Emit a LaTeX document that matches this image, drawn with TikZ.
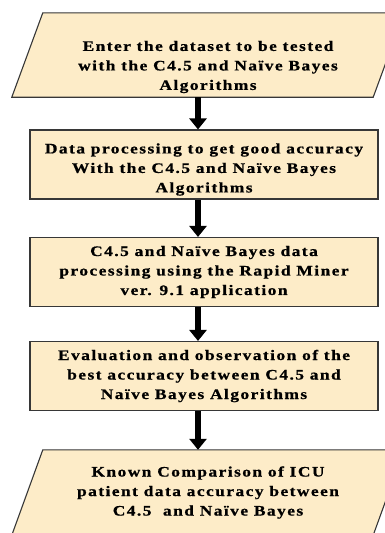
\documentclass[tikz,border=0pt]{standalone}
\usepackage{fontspec}
\setmainfont{Liberation Serif}
\newfontfamily\flowfont{Liberation Serif}[LetterSpace=10, FakeStretch=1.2, FakeBold=0.8]
\usepackage{tikz}
\usetikzlibrary{arrows.meta, backgrounds}
\definecolor{cBoxFill}{RGB}{253,236,200}
\definecolor{cBoxLine}{RGB}{55,55,55}
\tikzset{
	stepblk/.style  ={rectangle, draw=cBoxLine, line width=1.1pt, fill=cBoxFill, minimum width=348pt, minimum height=69pt, inner sep=0pt, text centered, align=center, font=\flowfont\bfseries\fontsize{14.5}{19.5}\selectfont},
	iobox/.style    ={rectangle, minimum width=361pt, minimum height=84pt, inner sep=0pt, text centered, align=center, font=\flowfont\bfseries\fontsize{14.5}{19.5}\selectfont},
	ioshape/.style  ={draw=cBoxLine, line width=1.1pt, fill=cBoxFill},
	flowarrow/.style={-{Triangle[width=17pt, length=11pt]}, line width=6pt},
}
\newcommand{\ioslant}[1]{% parallelogram round an iobox node
	\path[ioshape] ([xshift=-15.5pt]#1.south west) -- ([xshift=15.5pt]#1.north west) -- ([xshift=15.5pt]#1.north east) -- ([xshift=-15.5pt]#1.south east) -- cycle;}
\begin{document}
\begin{tikzpicture}[x=1pt, y=-1pt]
	\useasboundingbox (0,0) rectangle (384,533);
	\clip (0,0) rectangle (384,533);
	\coordinate (axis) at (198,0);
	\node[iobox, text height=73pt] (input) at (208,55) {Enter the dataset to be tested\\ with the C4.5 and Naïve Bayes\\ Algorithms};
	\node[stepblk, text height=59pt] (prep) at (204,164.5) {Data processing to get good accuracy\\ With the C4.5 and Naïve Bayes\\ Algorithms};
	\node[stepblk] (mining) at (204,272) {C4.5 and Naïve Bayes data\\ processing using the Rapid Miner\\ ver. 9.1 application};
	\node[stepblk] (eval) at (204,376) {Evaluation and observation of the\\ best accuracy between C4.5 and\\ Naïve Bayes Algorithms};
	\node[iobox, minimum height=85pt] (result) at (208,492.5) {Known Comparison of ICU\\ patient data accuracy between\\ C4.5 \ and Naïve Bayes};
	\begin{scope}[on background layer]
		\fill[white] (0,0) rectangle (384,533);
		\ioslant{input}
		\ioslant{result}
	\end{scope}
	\draw[flowarrow] (input.south -| axis) -- (prep.north -| axis);
	\draw[flowarrow] (prep.south -| axis) -- (mining.north -| axis);
	\draw[flowarrow] (mining.south -| axis) -- (eval.north -| axis);
	\draw[flowarrow] (eval.south -| axis) -- (result.north -| axis);
\end{tikzpicture}
\end{document}
